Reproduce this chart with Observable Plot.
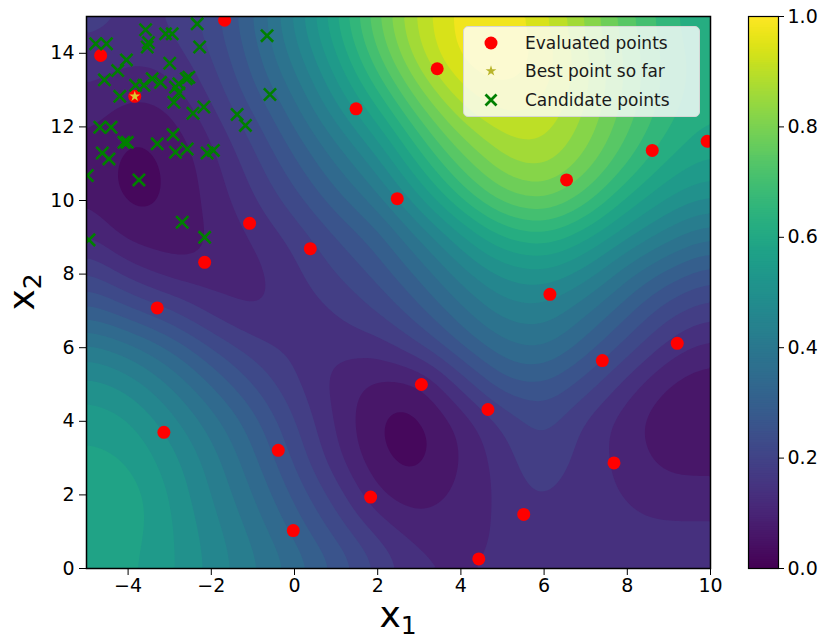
<!DOCTYPE html>
<html>
<head>
<meta charset="utf-8">
<script src="https://cdn.jsdelivr.net/npm/d3@7"></script>
<script src="https://cdn.jsdelivr.net/npm/@observablehq/plot@0.6"></script>
<style>
  body { margin: 0; background: #fff; font-family: "DejaVu Sans", sans-serif; }
  #wrap { position: relative; width: 824px; height: 642px; overflow: hidden; background: #fff; }
  #main { position: absolute; left: 0; top: 0; }
  #cbar { position: absolute; left: 730px; top: 0; }
  .axlabel { position: absolute; font-family: "DejaVu Sans", sans-serif; font-size: 36px; line-height: 36px; color: #000; white-space: nowrap; }
  .axlabel sub { font-size: 25px; vertical-align: baseline; position: relative; top: 7px; }
  #legend { position: absolute; left: 463px; top: 26px; width: 237px; height: 91px; box-sizing: border-box;
            background: rgba(255,255,255,0.8); border: 1px solid #d6d6d6; border-radius: 5px; }
  .row { position: absolute; left: 0; height: 24px; width: 100%; }
  .row svg { position: absolute; left: 16px; top: 1px; }
  .row span { position: absolute; left: 61px; top: 0; line-height: 24px; font-size: 17px; color: #1a1a1a; font-family: "DejaVu Sans", sans-serif; white-space: nowrap; }
</style>
</head>
<body>
<div id="wrap"></div>
<script>
// ---- data ----
const gridX = [-5,-4,-3,-2,-1,0,1,2,3,4,5,6,7,8,9,10];
const gridYTopDown = [15,14,13,12,11,10,9,8,7,6,5,4,3,2,1,0];
// surrogate values, one row per x2 (top row x2=15 ... bottom row x2=0), columns x1=-5..10
const surrogateRows = [
  [0.18,0.16,0.16,0.22,0.32,0.45,0.60,0.76,0.90,0.98,0.99,0.93,0.83,0.73,0.65,0.59],
  [0.15,0.13,0.14,0.20,0.30,0.42,0.56,0.72,0.88,0.98,1.00,0.95,0.85,0.75,0.66,0.61],
  [0.12,0.09,0.10,0.17,0.27,0.37,0.50,0.64,0.80,0.92,0.96,0.93,0.85,0.75,0.66,0.61],
  [0.09,0.04,0.06,0.13,0.22,0.32,0.43,0.55,0.70,0.83,0.90,0.90,0.83,0.73,0.64,0.59],
  [0.07,0.02,0.04,0.10,0.18,0.27,0.36,0.46,0.61,0.74,0.83,0.86,0.79,0.68,0.59,0.55],
  [0.08,0.02,0.04,0.09,0.15,0.22,0.30,0.38,0.51,0.64,0.74,0.77,0.70,0.59,0.51,0.47],
  [0.13,0.06,0.05,0.08,0.12,0.17,0.24,0.30,0.40,0.51,0.60,0.63,0.57,0.48,0.41,0.36],
  [0.21,0.14,0.10,0.09,0.10,0.15,0.20,0.25,0.33,0.42,0.49,0.51,0.46,0.37,0.30,0.25],
  [0.30,0.25,0.20,0.14,0.11,0.14,0.16,0.20,0.27,0.35,0.42,0.43,0.37,0.29,0.21,0.17],
  [0.42,0.38,0.32,0.24,0.18,0.15,0.13,0.13,0.19,0.28,0.35,0.37,0.30,0.22,0.14,0.10],
  [0.50,0.47,0.40,0.32,0.24,0.17,0.10,0.06,0.06,0.17,0.27,0.28,0.22,0.14,0.07,0.05],
  [0.55,0.53,0.46,0.38,0.30,0.20,0.11,0.03,0.02,0.09,0.17,0.22,0.15,0.09,0.05,0.04],
  [0.57,0.56,0.50,0.42,0.33,0.23,0.13,0.04,0.02,0.08,0.14,0.20,0.14,0.10,0.06,0.06],
  [0.59,0.59,0.52,0.44,0.36,0.27,0.18,0.08,0.05,0.09,0.13,0.17,0.13,0.12,0.10,0.10],
  [0.58,0.58,0.53,0.46,0.39,0.31,0.23,0.15,0.10,0.10,0.13,0.14,0.14,0.13,0.13,0.13],
  [0.57,0.57,0.53,0.47,0.41,0.35,0.28,0.20,0.13,0.12,0.13,0.14,0.14,0.14,0.14,0.14]
];
const evalX = [-4.66,-1.68,3.43,1.48,2.47,-1.08,0.38,-2.16,6.54,8.60,9.92,-3.30,-3.14,-0.39,-0.03,1.83,6.14,7.40,9.20,3.05,4.65,7.68,5.51,4.43,-3.84];
const evalY = [13.94,14.90,13.58,12.49,10.05,9.38,8.69,8.32,10.56,11.36,11.61,7.08,3.70,3.21,1.03,1.94,7.45,5.65,6.12,5.00,4.32,2.87,1.47,0.26,12.83];
const bestX = [-3.84];
const bestY = [12.83];
const candX = [-4.78,-4.52,-3.58,-3.54,-3.51,-3.10,-2.94,-2.34,-2.28,-0.66,
               -4.04,-4.25,-3.00,-4.57,-4.20,-3.82,-3.62,-3.42,-3.22,-2.86,
               -2.78,-2.60,-2.54,-2.78,-2.90,-2.44,-2.18,-1.38,-1.18,-0.59,
               -4.68,-4.41,-4.10,-4.02,-3.30,-2.92,-2.86,-2.58,-2.10,-1.95,
               -4.62,-4.46,-4.98,-3.74,-2.70,-2.16,-4.94];
const candY = [14.26,14.26,14.64,14.17,14.29,14.53,14.53,14.80,14.17,14.48,
               13.82,13.53,13.73,13.28,12.83,13.13,13.13,13.31,13.21,13.08,
               13.17,13.31,13.35,12.92,12.67,12.37,12.54,12.34,12.04,12.88,
               11.99,11.99,11.58,11.58,11.54,11.79,11.31,11.40,11.29,11.36,
               11.29,11.13,10.68,10.56,9.41,9.00,8.93];
const xTicks = [-4,-2,0,2,4,6,8,10];
const yTicks = [0,2,4,6,8,10,12,14];
const cbTicks = [0,0.2,0.4,0.6,0.8,1.0];
const legendLabels = ["Evaluated points", "Best point so far", "Candidate points"];

// ---- tables built from the arrays ----
const surface = [];
gridYTopDown.forEach((y, j) => gridX.forEach((x, i) => surface.push({x, y, v: surrogateRows[j][i]})));
const evaluated = evalX.map((x, i) => ({x, y: evalY[i]}));
const best = bestX.map((x, i) => ({x, y: bestY[i]}));
const candidates = candX.map((x, i) => ({x, y: candY[i]}));
const thresholds = d3.range(0, 1.0001, 0.04);

const wrap = document.getElementById("wrap");

const main = Plot.plot({
  width: 730, height: 642,
  marginLeft: 86, marginRight: 20, marginTop: 16, marginBottom: 74,
  style: {fontFamily: "DejaVu Sans", fontSize: "19px", color: "#000", background: "transparent"},
  x: {domain: [-5, 10], ticks: xTicks, tickSize: 7, tickPadding: 3, label: null},
  y: {domain: [0, 15], ticks: yTicks, tickSize: 7, tickPadding: 5, label: null},
  color: {type: "linear", scheme: "viridis", domain: [-0.02, 0.98], clamp: true},
  marks: [
    Plot.contour(surface, {
      x: "x", y: "y", fill: "v",
      interpolate: "barycentric", pixelSize: 3, blur: 5,
      thresholds, stroke: "none", clip: true
    }),
    Plot.dot(evaluated, {x: "x", y: "y", fill: "red", r: 6.5, clip: true}),
    Plot.dot(candidates, {x: "x", y: "y", symbol: "times", stroke: "green", r: 5.6, strokeWidth: 2.6, clip: true}),
    Plot.dot(best, {x: "x", y: "y", symbol: "star", fill: "#dcc830", r: 3.4, clip: true}),
    Plot.frame({stroke: "#000", strokeWidth: 1.5})
  ]
});
main.id = "main";
wrap.appendChild(main);

const cbStep = 0.004;
const cbSteps = d3.range(0, 1, cbStep);
const cbar = Plot.plot({
  width: 94, height: 642,
  marginLeft: 18, marginRight: 46, marginTop: 16, marginBottom: 74,
  style: {fontFamily: "DejaVu Sans", fontSize: "19px", color: "#000", background: "transparent"},
  x: {domain: [0, 1], axis: null},
  y: {domain: [0, 1], ticks: cbTicks, tickFormat: d3.format(".1f"), axis: "right", tickSize: 5, tickPadding: 4, label: null},
  color: {type: "linear", scheme: "viridis", domain: [0, 1]},
  marks: [
    Plot.rect(cbSteps, {x1: () => 0, x2: () => 1, y1: d => d, y2: d => Math.min(1, d + cbStep * 1.6), fill: d => d + cbStep / 2}),
    Plot.frame({stroke: "#000", strokeWidth: 1.2})
  ]
});
cbar.id = "cbar";
wrap.appendChild(cbar);

// axis labels
const xl = document.createElement("div");
xl.className = "axlabel";
xl.innerHTML = "x<sub>1</sub>";
xl.style.left = "398px"; xl.style.top = "597px"; xl.style.transform = "translateX(-50%)";
wrap.appendChild(xl);

const yl = document.createElement("div");
yl.className = "axlabel";
yl.innerHTML = "x<sub>2</sub>";
yl.style.left = "24px"; yl.style.top = "292px"; yl.style.transform = "translate(-50%,-50%) rotate(-90deg)";
wrap.appendChild(yl);

// legend
const legend = document.createElement("div");
legend.id = "legend";
const starPath = d3.symbol(d3.symbolStar, 36)();
const symbols = [
  `<svg width="22" height="22" viewBox="-11 -11 22 22"><circle r="6.5" fill="red"/></svg>`,
  `<svg width="22" height="22" viewBox="-11 -11 22 22"><path d="${starPath}" fill="#b9b52c"/></svg>`,
  `<svg width="22" height="22" viewBox="-11 -11 22 22"><path d="M-5.5,-5.5L5.5,5.5M-5.5,5.5L5.5,-5.5" stroke="green" stroke-width="2.8"/></svg>`
];
const rowTops = [4, 32, 61];
legendLabels.forEach((lab, i) => {
  const r = document.createElement("div");
  r.className = "row";
  r.style.top = rowTops[i] + "px";
  r.innerHTML = symbols[i] + `<span>${lab}</span>`;
  legend.appendChild(r);
});
wrap.appendChild(legend);
</script>
</body>
</html>
